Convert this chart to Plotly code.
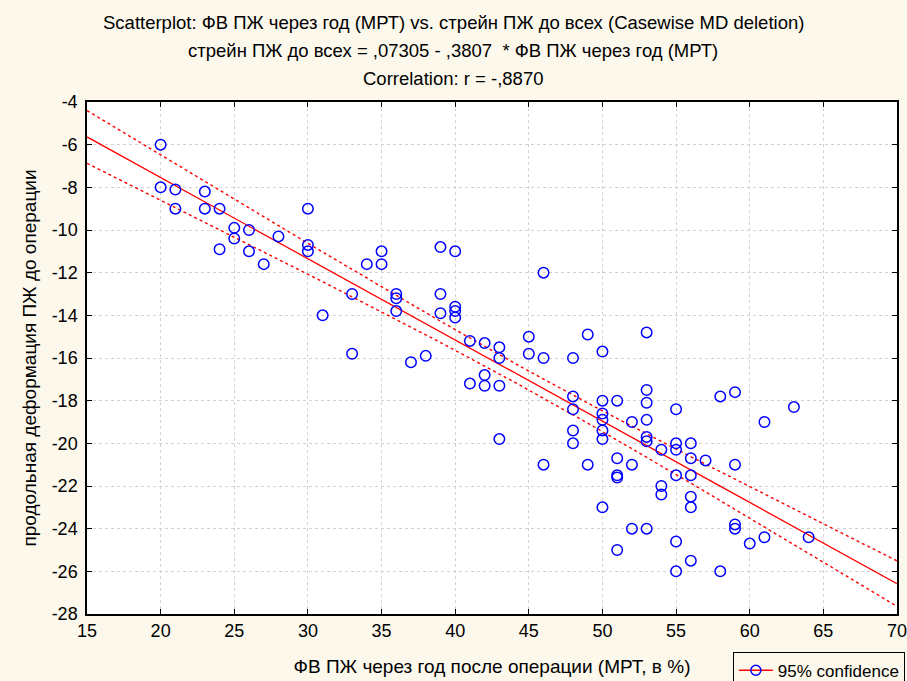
import numpy as np
import plotly.graph_objects as go

# ФВ ПЖ через год после операции (МРТ, %) and pre-op RV longitudinal strain
ef_mri = [20, 20, 21, 21, 23, 23, 24, 24, 25, 25, 26, 26, 27, 28, 30, 30, 30, 31,
          33, 33, 34, 35, 35, 36, 36, 36, 37, 38, 39, 39, 39, 40, 40, 40, 40,
          41, 41, 42, 42, 42, 43, 43, 43, 43, 45, 45, 46, 46, 46,
          48, 48, 48, 48, 48, 49, 49,
          50, 50, 50, 50, 50, 50, 50,
          51, 51, 51, 51, 51, 52, 52, 52,
          53, 53, 53, 53, 53, 53, 53, 54, 54, 54,
          55, 55, 55, 55, 55, 55, 56, 56, 56, 56, 56, 56,
          57, 58, 58, 59, 59, 59, 59, 60, 61, 61, 63, 64]
strain_pre = [-6, -8, -8.1, -9, -8.2, -9, -9, -10.9, -9.9, -10.4, -10, -11, -11.6, -10.3,
              -9, -10.7, -11, -14, -13, -15.8, -11.6, -11, -11.6, -13, -13.2, -13.8,
              -16.2, -15.9, -10.8, -13, -13.9, -11, -13.6, -13.8, -14.1,
              -15.2, -17.2, -15.3, -16.8, -17.3, -15.5, -16, -17.3, -19.8,
              -15, -15.8, -12, -16, -21,
              -16, -17.8, -18.4, -19.4, -20, -14.9, -21,
              -15.7, -18, -18.6, -18.9, -19.4, -19.8, -23,
              -18, -20.7, -21.5, -21.6, -25, -19, -21, -24,
              -14.8, -17.5, -18.1, -18.9, -19.7, -19.9, -24, -20.3, -22, -22.4,
              -18.4, -20, -20.3, -21.5, -24.6, -26, -20, -20.7, -21.5, -22.5, -23, -25.5,
              -20.8, -17.8, -26, -17.6, -21, -23.8, -24, -24.7, -19, -24.4, -18.3, -24.4]

# Regression coefficients as reported in the subtitle
intercept = 0.07305
slope = -0.3807
t_crit = 1.983  # two-sided 95 %, n - 2 degrees of freedom

x_ticks = [15, 20, 25, 30, 35, 40, 45, 50, 55, 60, 65, 70]
y_ticks = [-28, -26, -24, -22, -20, -18, -16, -14, -12, -10, -8, -6, -4]

x = np.array(ef_mri, dtype=float)
y = np.array(strain_pre, dtype=float)
n = len(x)
resid = y - (intercept + slope * x)
s = np.sqrt(np.sum(resid ** 2) / (n - 2))
sxx = np.sum((x - x.mean()) ** 2)

xl = np.linspace(x_ticks[0], x_ticks[-1], 200)
yl = intercept + slope * xl
half = t_crit * s * np.sqrt(1.0 / n + (xl - x.mean()) ** 2 / sxx)

red = "#ff0000"
blue = "#0000ff"
fig = go.Figure()
fig.add_trace(go.Scatter(x=xl, y=yl + half, mode="lines", line=dict(color=red, width=1.4, dash="dot"),
                         showlegend=False, hoverinfo="skip"))
fig.add_trace(go.Scatter(x=xl, y=yl - half, mode="lines", line=dict(color=red, width=1.4, dash="dot"),
                         showlegend=False, hoverinfo="skip"))
fig.add_trace(go.Scatter(x=xl, y=yl, mode="lines", line=dict(color=red, width=1.3),
                         showlegend=False, hoverinfo="skip"))
fig.add_trace(go.Scatter(x=x, y=y, mode="markers",
                         marker=dict(symbol="circle-open", size=10.5, color=blue, line=dict(width=1.5, color=blue)),
                         showlegend=False))
# legend entry
fig.add_trace(go.Scatter(x=[None], y=[None], mode="lines+markers", name="95% confidence",
                         line=dict(color=red, width=1.3),
                         marker=dict(symbol="circle-open", size=10, color=blue, line=dict(width=1.5, color=blue))))

font_family = "Arial, Liberation Sans, sans-serif"
axis_common = dict(
    showline=True, linecolor="black", linewidth=1.5, mirror="ticks",
    ticks="inside", ticklen=5, tickcolor="black", tickwidth=1,
    showgrid=True, gridcolor="#d2d2d2", griddash="dot", gridwidth=1,
    zeroline=False, automargin=False, ticklabeloverflow="allow",
    tickfont=dict(size=18, color="black", family=font_family),
)
fig.update_xaxes(range=[15, 70], tickvals=x_ticks, ticktext=[str(v) for v in x_ticks],
                 title=dict(text="ФВ ПЖ через год после операции (МРТ, в %)",
                            font=dict(size=19, color="black", family=font_family), standoff=19),
                 **axis_common)
fig.update_yaxes(range=[-28, -4], tickvals=y_ticks, ticktext=[str(v) for v in y_ticks],
                 title=dict(text="продольная деформация ПЖ до операции",
                            font=dict(size=19, color="black", family=font_family), standoff=10),
                 ticklabelstandoff=4, **axis_common)

title_lines = [
    "Scatterplot: ФВ ПЖ через год (МРТ) vs. стрейн ПЖ до всех (Casewise MD deletion)",
    "стрейн ПЖ до всех = ,07305 - ,3807  * ФВ ПЖ через год (МРТ)",
    "Correlation: r = -,8870",
]
for i, line in enumerate(title_lines):
    fig.add_annotation(text=line, xref="paper", yref="paper", x=0.452, y=1.155 - 0.0545 * i,
                       xanchor="center", yanchor="middle", showarrow=False,
                       font=dict(size=18.5, color="black", family=font_family))

fig.update_layout(
    width=907, height=681,
    margin=dict(l=87, r=10, t=102, b=67, autoexpand=False),
    paper_bgcolor="#fdf8ec", plot_bgcolor="white",
    font=dict(family=font_family, color="black"),
    legend=dict(xref="container", yref="container", x=0.808, y=0.043,
                xanchor="left", yanchor="top", itemwidth=34,
                bgcolor="#fdf8ec", bordercolor="black", borderwidth=1,
                font=dict(size=17, color="black", family=font_family)),
)

fig.write_html("out.html")
